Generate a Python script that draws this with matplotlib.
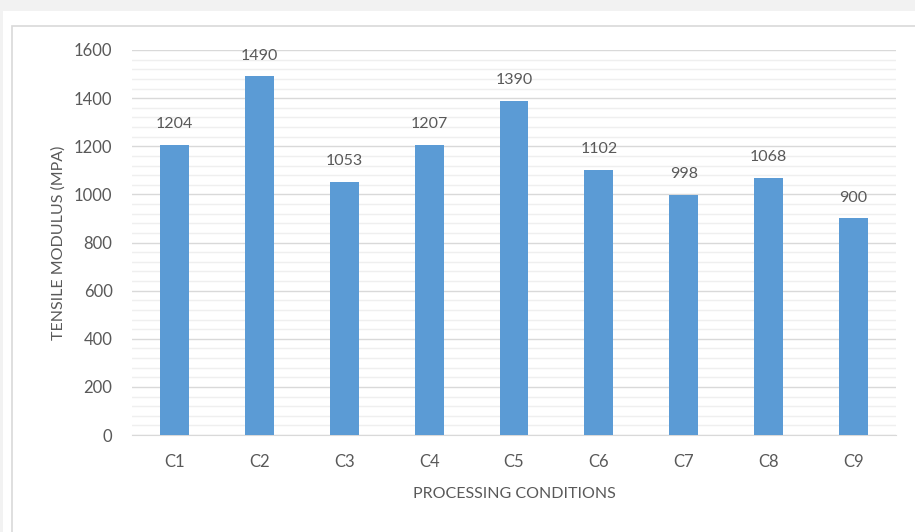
import matplotlib.pyplot as plt
from matplotlib.patches import Rectangle
from matplotlib.ticker import MultipleLocator

# Tensile modulus per processing condition
condicoes = ['C1', 'C2', 'C3', 'C4', 'C5', 'C6', 'C7', 'C8', 'C9']
modulo = [1204, 1490, 1053, 1207, 1390, 1102, 998, 1068, 900]

plt.rcParams['font.family'] = ['Lato', 'DejaVu Sans']
COR_TEXTO = '#595959'
COR_BARRA = '#5b9bd5'

W, H = 915, 532
fig = plt.figure(figsize=(W / 100, H / 100), dpi=100, facecolor='#f2f2f2')

# painel branco e moldura do grafico (atras dos eixos)
fig.patches.append(Rectangle((3 / W, 0), 1, 1 - 11 / H, transform=fig.transFigure,
                             facecolor='white', edgecolor='none', zorder=-3))
fig.patches.append(Rectangle((12 / W, -0.1), 1, 1.1 - 26 / H, transform=fig.transFigure,
                             facecolor='none', edgecolor='#d9d9d9', linewidth=1.2, zorder=-2))

ax = fig.add_axes([132 / W, 1 - 435 / H, (896 - 132) / W, (435 - 50) / H])
ax.set_facecolor('none')

x = range(len(condicoes))
barras = ax.bar(x, modulo, width=0.34, color=COR_BARRA, zorder=3)
for xi, v in zip(x, modulo):
    ax.annotate(str(v), (xi, v), xytext=(0, 10), textcoords='offset points',
                ha='center', va='bottom', fontsize=11.5, color=COR_TEXTO)

ax.set_xlim(-0.5, len(condicoes) - 0.5)
ax.set_ylim(0, 1600)
ax.yaxis.set_major_locator(MultipleLocator(200))
ax.yaxis.set_minor_locator(MultipleLocator(40))
ax.grid(axis='y', which='major', color='#d9d9d9', linewidth=1.0, zorder=0)
ax.grid(axis='y', which='minor', color='#efefef', linewidth=1.0, zorder=0)

ax.set_xticks(list(x))
ax.set_xticklabels(condicoes)
ax.tick_params(axis='both', which='both', length=0, labelsize=12, colors=COR_TEXTO)
ax.tick_params(axis='x', pad=14)
ax.tick_params(axis='y', pad=14)

for lado in ['top', 'right', 'left']:
    ax.spines[lado].set_visible(False)
ax.spines['bottom'].set_color('#d9d9d9')

ax.set_xlabel('PROCESSING CONDITIONS', fontsize=11.5, color=COR_TEXTO, labelpad=12)
ax.set_ylabel('TENSILE MODULUS (MPA)', fontsize=11.5, color=COR_TEXTO, labelpad=6)

fig.savefig('out.png', dpi=100, facecolor=fig.get_facecolor())
